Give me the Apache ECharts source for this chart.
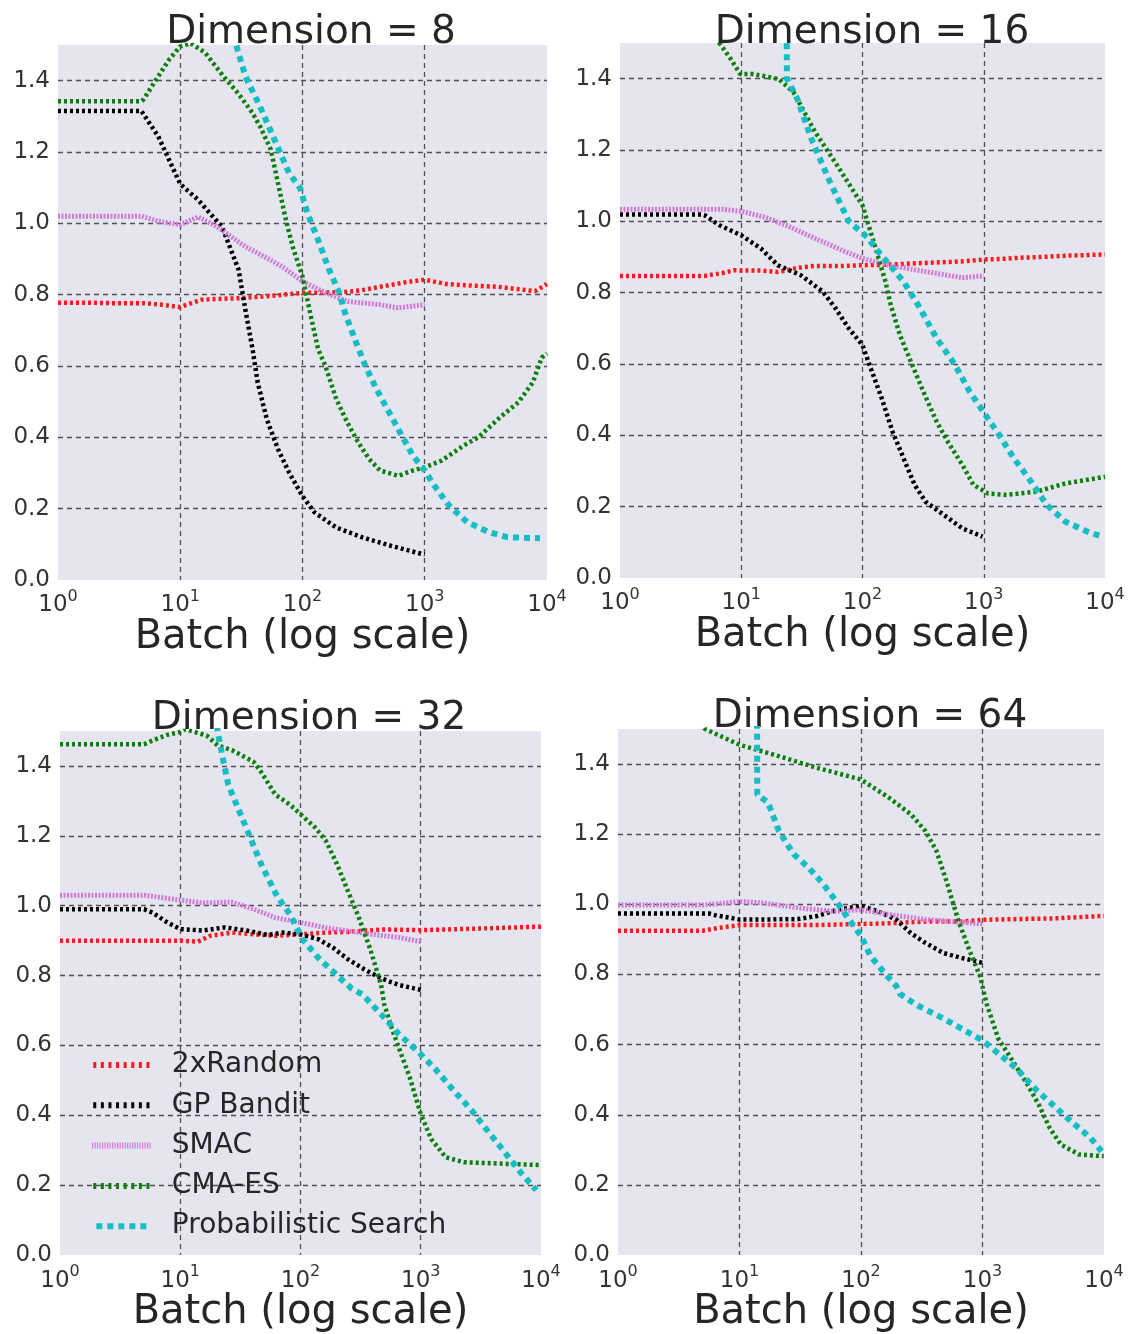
<!DOCTYPE html>
<html>
<head>
<meta charset="utf-8">
<script src="https://cdn.jsdelivr.net/npm/echarts@6/dist/echarts.min.js"></script>
<style>
  html, body { margin: 0; padding: 0; background: #ffffff; }
  #chart { width: 1136px; height: 1334px; }
</style>
</head>
<body>
<div id="chart"></div>
<script>
// ---------- data ----------
const dimensions = [8, 16, 32, 64];
const methodNames = ['2xRandom', 'GP Bandit', 'SMAC', 'CMA-ES', 'Probabilistic Search'];
const xTickValues = [1, 10, 100, 1000, 10000];
const yTickLabels = ['0.0', '0.2', '0.4', '0.6', '0.8', '1.0', '1.2', '1.4'];

// Dimension = 8   ([batch, value])
const random8 = [[1,0.777],[2,0.777],[3,0.776],[5,0.776],[7,0.772],[10,0.765],[12,0.775],[15,0.786],[20,0.788],[30,0.79],[40,0.793],[50,0.795],[70,0.80],[100,0.805],[150,0.806],[200,0.806],[300,0.812],[400,0.82],[500,0.826],[700,0.835],[1000,0.842],[1500,0.83],[2000,0.827],[3000,0.824],[4000,0.822],[5000,0.818],[7000,0.812],[8000,0.81],[10000,0.83]];
const gp8 = [[1,1.315],[3,1.315],[4.8,1.315],[6.6,1.244],[10,1.11],[14,1.066],[22,0.99],[30,0.87],[34,0.76],[39,0.648],[43,0.554],[51,0.451],[63,0.367],[78,0.30],[100,0.235],[125,0.19],[189,0.147],[305,0.12],[528,0.096],[946,0.073],[1000,0.072]];
const smac8 = [[1,1.02],[4.8,1.02],[6.6,1.006],[10,0.996],[14,1.018],[19.7,0.992],[34,0.935],[51,0.903],[68,0.879],[100,0.837],[155,0.805],[234,0.781],[427,0.772],[603,0.763],[1000,0.772]];
const cma8 = [[1,1.342],[4.8,1.342],[5,1.347],[6.6,1.412],[8.1,1.459],[10,1.496],[12.2,1.505],[16,1.478],[22.6,1.412],[29.7,1.365],[38.9,1.31],[44.9,1.272],[55,1.207],[63,1.113],[72,1.02],[83,0.935],[100,0.851],[117,0.74],[134,0.648],[154,0.60],[189,0.507],[232,0.442],[285,0.386],[351,0.339],[431,0.307],[607,0.292],[798,0.307],[1000,0.316],[1380,0.335],[2080,0.377],[2735,0.40],[4130,0.456],[5821,0.498],[7656,0.554],[9078,0.624],[10000,0.635]];
const prob8 = [[25,1.62],[28.7,1.50],[34.1,1.412],[44.9,1.328],[58.9,1.235],[77.6,1.141],[95.5,1.099],[109.6,1.029],[134,0.954],[165,0.87],[200,0.805],[217,0.76],[267,0.676],[327,0.60],[402,0.536],[528,0.461],[649,0.405],[798,0.349],[1000,0.307],[1202,0.264],[1585,0.208],[2228,0.162],[3365,0.134],[4742,0.12],[8770,0.117]];

// Dimension = 16
const random16 = [[1,0.847],[5,0.847],[7,0.855],[8.8,0.863],[10,0.862],[15,0.862],[20,0.858],[30,0.87],[40,0.875],[70,0.875],[100,0.877],[150,0.878],[200,0.88],[300,0.883],[500,0.886],[700,0.888],[1000,0.893],[1500,0.895],[2000,0.898],[3000,0.90],[5000,0.904],[10000,0.907]];
const gp16 = [[1,1.019],[4.8,1.019],[5,1.017],[6.6,0.989],[10,0.961],[14.5,0.924],[20,0.877],[31,0.849],[47,0.803],[60,0.756],[77,0.70],[100,0.653],[117,0.588],[144,0.504],[177,0.41],[218,0.336],[269,0.261],[331,0.214],[468,0.177],[667,0.139],[977,0.116]];
const smac16 = [[1,1.034],[7,1.034],[10,1.028],[15.5,1.012],[23.4,0.989],[40.7,0.952],[72,0.915],[100,0.896],[166,0.877],[331,0.859],[667,0.842],[1000,0.847]];
const cma16 = [[5.5,1.65],[6.6,1.50],[8.2,1.455],[9.8,1.413],[12.6,1.413],[20.4,1.399],[27,1.362],[40.7,1.25],[61.7,1.157],[100,1.045],[126,0.933],[155,0.83],[171,0.765],[204,0.68],[251,0.606],[309,0.532],[409,0.438],[505,0.382],[667,0.317],[822,0.261],[1086,0.237],[1542,0.233],[2692,0.242],[4710,0.265],[10000,0.284]];
const prob16 = [[23.5,1.9],[23.8,1.40],[29,1.343],[38,1.23],[54,1.11],[77,1.0],[109,0.956],[139,0.91],[177,0.868],[218,0.831],[288,0.765],[409,0.672],[581,0.597],[767,0.522],[993,0.466],[1340,0.401],[1770,0.336],[2344,0.28],[3311,0.205],[4710,0.158],[7161,0.13],[9462,0.116]];

// Dimension = 32
const random32 = [[1,0.90],[10,0.90],[14,0.897],[17.8,0.914],[27,0.923],[41,0.918],[62,0.914],[100,0.918],[162,0.923],[245,0.925],[500,0.932],[1000,0.93],[2630,0.934],[10000,0.94]];
const gp32 = [[1,0.99],[5,0.99],[5.9,0.98],[7.8,0.952],[10,0.933],[15.5,0.929],[23.4,0.938],[35.5,0.929],[53.7,0.916],[70.8,0.923],[100,0.918],[141,0.904],[186,0.88],[245,0.848],[331,0.82],[468,0.792],[661,0.773],[1000,0.759]];
const smac32 = [[1,1.03],[5,1.03],[10,1.016],[15.5,1.008],[27,1.01],[40.7,0.99],[61.7,0.966],[100,0.952],[162,0.937],[245,0.928],[468,0.915],[661,0.909],[1000,0.897]];
const cma32 = [[1,1.462],[5,1.462],[5.9,1.473],[7.8,1.489],[10,1.497],[11,1.505],[16.6,1.487],[20.4,1.459],[27,1.445],[40.7,1.412],[46.8,1.384],[61.7,1.318],[81.3,1.29],[100,1.262],[132,1.224],[162,1.187],[200,1.121],[245,1.046],[302,0.971],[380,0.876],[468,0.773],[497,0.718],[570,0.652],[655,0.595],[807,0.51],[993,0.407],[1222,0.332],[1614,0.28],[2280,0.266],[5248,0.261],[9772,0.258]];
const prob32 = [[20,1.8],[20.4,1.5],[22.6,1.422],[25.1,1.346],[30.9,1.271],[38,1.197],[46.8,1.121],[61.7,1.037],[71.1,1.004],[81.8,0.975],[104,0.904],[143,0.848],[201,0.801],[266,0.763],[327,0.746],[497,0.68],[655,0.633],[807,0.605],[993,0.576],[1309,0.534],[1854,0.473],[2624,0.416],[3707,0.35],[5248,0.285],[6918,0.233],[9120,0.186]];

// Dimension = 64
const random64 = [[1,0.925],[5,0.925],[6.5,0.932],[10,0.941],[21,0.941],[43,0.941],[100,0.944],[170,0.946],[339,0.951],[676,0.951],[1000,0.956],[1905,0.958],[3800,0.96],[10000,0.967]];
const gp64 = [[1,0.974],[5.6,0.974],[6.5,0.968],[10,0.957],[15.8,0.957],[30.2,0.958],[42.7,0.966],[64.6,0.985],[100,0.996],[138,0.98],[195,0.957],[257,0.918],[339,0.89],[479,0.861],[676,0.847],[891,0.838],[1000,0.833]];
const smac64 = [[1,0.998],[5,0.998],[10,1.008],[15.8,1.004],[30.2,0.99],[60.3,0.98],[100,0.985],[170,0.971],[339,0.957],[676,0.949],[1000,0.944]];
const cma64 = [[4,1.56],[5.2,1.5],[10,1.455],[14.8,1.438],[21.4,1.422],[42.7,1.39],[100,1.356],[170,1.304],[257,1.257],[339,1.209],[417,1.153],[513,1.059],[631,0.955],[776,0.871],[955,0.795],[1080,0.717],[1349,0.617],[1791,0.551],[2360,0.485],[2911,0.428],[3581,0.362],[4416,0.315],[6237,0.287],[9931,0.282]];
const prob64 = [[13.9,1.8],[14,1.313],[17.2,1.29],[21.1,1.209],[27.9,1.143],[36.8,1.106],[48.6,1.059],[64.1,1.004],[79.1,0.958],[100,0.91],[120,0.852],[148,0.814],[195,0.767],[209,0.745],[257,0.724],[295,0.711],[479,0.674],[676,0.645],[1000,0.612],[1349,0.575],[1905,0.532],[2692,0.475],[3802,0.428],[5370,0.381],[7762,0.334],[9550,0.296]];

const panelSeries = [
  [random8, gp8, smac8, cma8, prob8],
  [random16, gp16, smac16, cma16, prob16],
  [random32, gp32, smac32, cma32, prob32],
  [random64, gp64, smac64, cma64, prob64]
];

// ---------- layout & styles ----------
const FONT = 'DejaVu Sans';
const grids = [
  { left: 58,  top: 45,  width: 489, height: 535 },
  { left: 620, top: 43,  width: 485, height: 535 },
  { left: 60,  top: 731, width: 481, height: 532 },
  { left: 618, top: 729, width: 486, height: 531 }
];
const titleCenters = [[306, 8], [867, 8], [304, 694], [865, 692]];
const lineStyles = [
  { color: '#ff1a1a', width: 4.5, type: [3, 3] },
  { color: '#000000', width: 4.5, type: [3, 3] },
  { color: '#d27ad8', width: 5,   type: [2, 1.5] },
  { color: '#0a7f0a', width: 4.5, type: [3, 3] },
  { color: '#16bec4', width: 6,   type: [6, 5] }
];

// legend sample icons (dotted dash samples)
function dashIcon(total, dash, step, h) {
  let p = 'path://';
  for (let x = 0; x + dash <= total + 0.01; x += step) {
    p += 'M' + x + ',0h' + dash + 'v' + h + 'h-' + dash + 'z';
  }
  return p;
}
const legendIcons = [
  dashIcon(61, 3, 7.6, 6),
  dashIcon(61, 3, 7.6, 6),
  dashIcon(61, 1.2, 2.5, 6),
  dashIcon(61, 3, 7.6, 6),
  dashIcon(50, 6, 11, 6)
];

const option = {
  animation: false,
  backgroundColor: '#ffffff',
  textStyle: { fontFamily: FONT },
  title: dimensions.map((d, i) => ({
    text: 'Dimension = ' + d,
    left: titleCenters[i][0],
    top: titleCenters[i][1],
    textAlign: 'center',
    textStyle: { fontFamily: FONT, fontSize: 39, fontWeight: 'normal', color: '#262626' }
  })),
  legend: {
    orient: 'vertical',
    left: 87,
    top: 1046,
    itemWidth: 61,
    itemHeight: 6,
    itemGap: 12.3,
    data: methodNames.map((n, k) => ({ name: n, icon: legendIcons[k] })),
    textStyle: { fontFamily: FONT, fontSize: 28, color: '#262626', lineHeight: 28, padding: [0, 0, 0, 15] }
  },
  grid: grids.map(g => Object.assign({ backgroundColor: '#e5e5ef', show: true, borderWidth: 0 }, g)),
  xAxis: grids.map((g, i) => ({
    type: 'log',
    logBase: 10,
    gridIndex: i,
    min: 1,
    max: 10000,
    name: 'Batch (log scale)',
    nameLocation: 'middle',
    nameGap: 31,
    nameTextStyle: { fontFamily: FONT, fontSize: 40, color: '#262626' },
    axisLine: { show: false },
    axisTick: { show: false },
    splitLine: { show: true, showMinLine: false, showMaxLine: false,
      lineStyle: { color: '#505050', width: 1.3, type: [5, 4] } },
    axisLabel: {
      margin: 9,
      color: '#333333',
      formatter: v => '{b|10}{s|' + Math.round(Math.log10(v)) + '}',
      rich: {
        b: { fontFamily: FONT, fontSize: 23, color: '#333333', verticalAlign: 'bottom', lineHeight: 28 },
        s: { fontFamily: FONT, fontSize: 16, color: '#333333', verticalAlign: 'bottom', padding: [0, 0, 12, 0] }
      }
    }
  })),
  yAxis: grids.map((g, i) => ({
    type: 'value',
    gridIndex: i,
    min: 0,
    max: 1.5,
    interval: 0.2,
    axisLine: { show: false },
    axisTick: { show: false },
    splitLine: { show: true, showMinLine: false, showMaxLine: false,
      lineStyle: { color: '#505050', width: 1.3, type: [5, 4] } },
    axisLabel: {
      margin: 8,
      showMaxLabel: false,
      fontFamily: FONT,
      fontSize: 23,
      color: '#333333',
      formatter: v => (Math.abs(v - 1.5) < 1e-9 ? '' : v.toFixed(1))
    }
  })),
  series: []
};

panelSeries.forEach((list, p) => {
  list.forEach((data, k) => {
    option.series.push({
      type: 'line',
      name: methodNames[k],
      xAxisIndex: p,
      yAxisIndex: p,
      data: data,
      symbol: 'none',
      clip: true,
      z: 2 + k,
      lineStyle: Object.assign({}, lineStyles[k]),
      itemStyle: { color: lineStyles[k].color }
    });
  });
});

const chart = echarts.init(document.getElementById('chart'), null, { renderer: 'canvas' });
chart.setOption(option);
</script>
</body>
</html>
